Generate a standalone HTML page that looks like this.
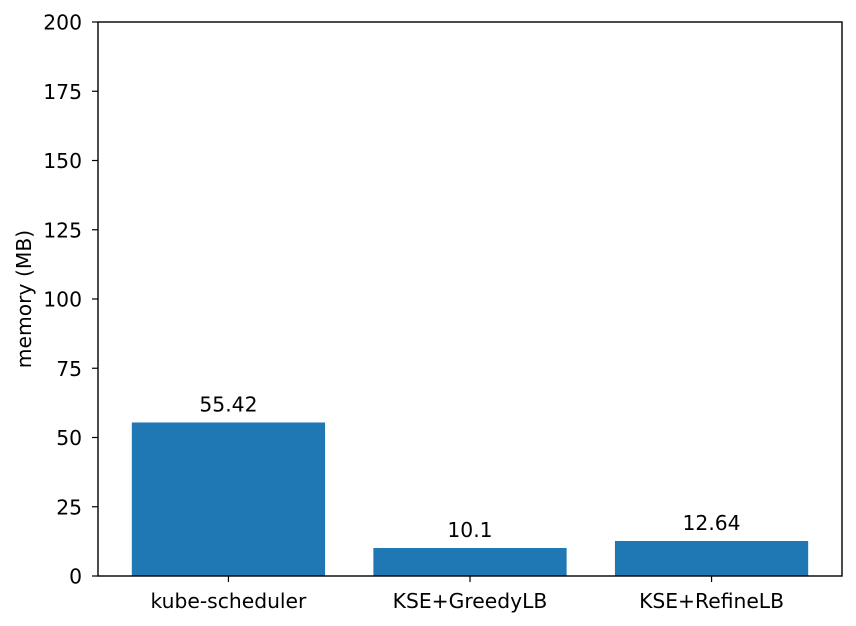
<!DOCTYPE html>
<html><head><meta charset="utf-8"><style>
body{margin:0;background:#fff;}
svg{display:block;font-family:"DejaVu Sans","Liberation Sans",sans-serif;}
</style></head><body>
<svg id="chart" width="856" height="626"></svg>
<script>
const categories=["kube-scheduler","KSE+GreedyLB","KSE+RefineLB"];
const values=[55.42,10.1,12.64];
const valueLabels=["55.42","10.1","12.64"];
const yTicks=[0,25,50,75,100,125,150,175,200];
const NS="http://www.w3.org/2000/svg";
const svg=document.getElementById('chart');
const L=98,R=842,T=22,B=576,ymax=200,xmin=-0.54,xmax=2.54,bw=0.8,FS='20.3';
const y=v=>B-(v/ymax)*(B-T);
const x=i=>L+(i-xmin)/(xmax-xmin)*(R-L);
function mk(t,a,txt){const e=document.createElementNS(NS,t);for(const k in a)e.setAttribute(k,a[k]);if(txt!==undefined)e.textContent=txt;svg.appendChild(e);return e;}
values.forEach((v,i)=>{
 const w=x(bw)-x(0);
 const r=mk('rect',{x:x(i)-w/2,y:y(v),width:w,height:B-y(v),fill:'#1f77b4'});
 
 
 const t=mk('text',{x:x(i),y:y(v)-11,'text-anchor':'middle','font-size':FS,fill:'#000'},valueLabels[i]);
 
 
 mk('line',{x1:x(i),x2:x(i),y1:B,y2:B+6,stroke:'#000','stroke-width':1.2});
 const c=mk('text',{x:x(i),y:B+32,'text-anchor':'middle','font-size':FS,fill:'#000'},categories[i]);
 
 
});
yTicks.forEach(v=>{
 mk('line',{x1:L-6,x2:L,y1:y(v),y2:y(v),stroke:'#000','stroke-width':1.2});
 const t=mk('text',{x:L-16,y:y(v)+7.5,'text-anchor':'end','font-size':FS,fill:'#000'},String(v));
 
 
});
const f=mk('rect',{x:L,y:T,width:R-L,height:B-T,fill:'none',stroke:'#000','stroke-width':1.4});


const yl=mk('text',{x:0,y:0,transform:'translate(31,'+((T+B)/2)+') rotate(-90)','text-anchor':'middle','font-size':FS,fill:'#000'},'memory (MB)');


</script>
</body></html>
